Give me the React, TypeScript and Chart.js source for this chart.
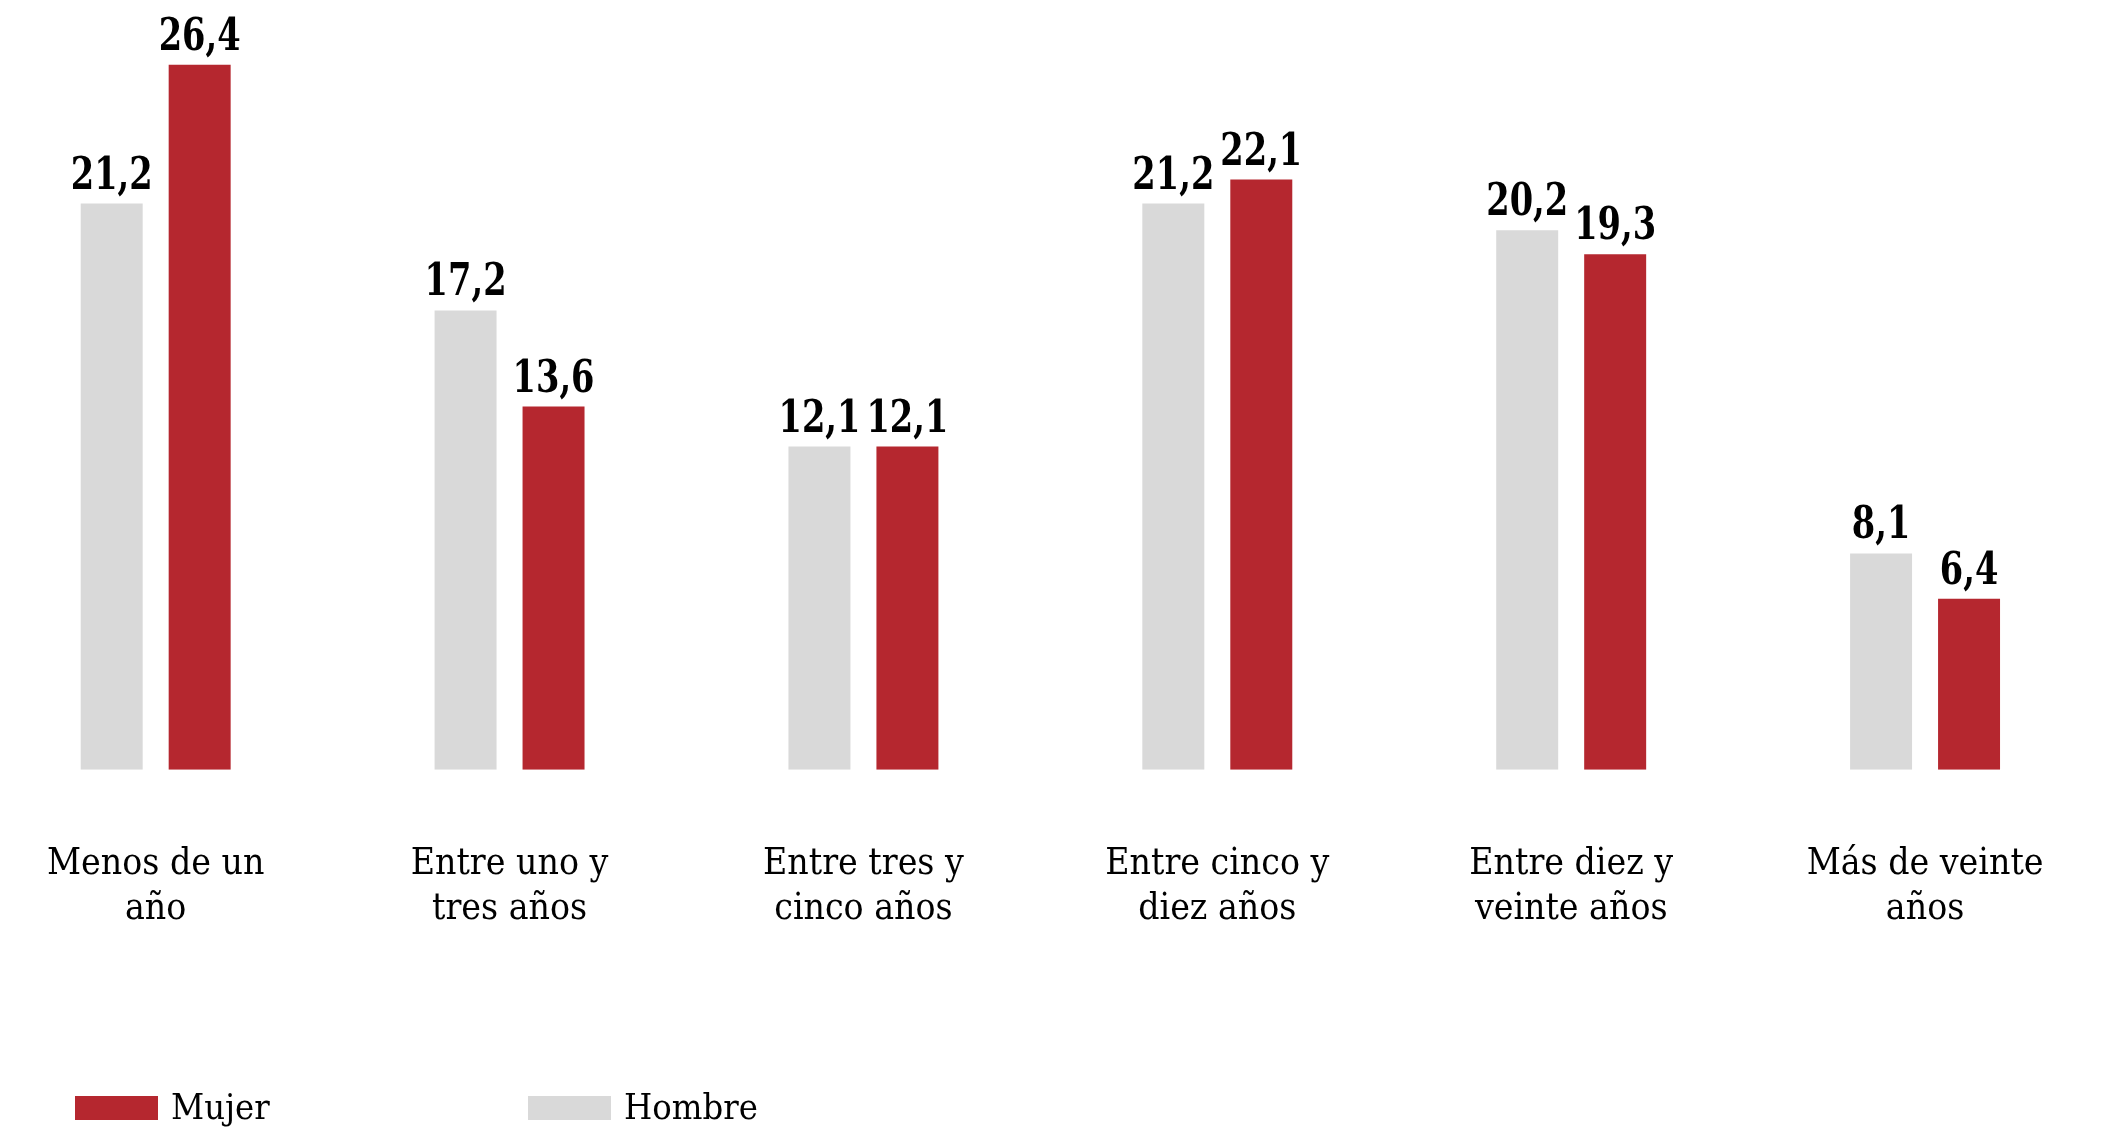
import React, { useEffect, useRef } from "react";
import { Chart, registerables } from "chart.js";

Chart.register(...registerables);

// ---- data ----
const categories: string[][] = [
  ["Menos de un", "año"],
  ["Entre uno y", "tres años"],
  ["Entre tres y", "cinco años"],
  ["Entre cinco y", "diez años"],
  ["Entre diez y", "veinte años"],
  ["Más de veinte", "años"],
];
const hombreValues = [21.2, 17.2, 12.1, 21.2, 20.2, 8.1];
const mujerValues = [26.4, 13.6, 12.1, 22.1, 19.3, 6.4];
const seriesNames = ["Hombre", "Mujer"];
const seriesColors = ["#D9D9D9", "#B5272F"];
const legendOrder = [1, 0];
const yMax = 28;

const FONT = '"DejaVu Serif Condensed", "DejaVu Serif", serif';

const valueLabels = {
  id: "valueLabels",
  afterDatasetsDraw(chart: any) {
    const ctx = chart.ctx;
    chart.data.datasets.forEach((ds: any, i: number) => {
      const meta = chart.getDatasetMeta(i);
      meta.data.forEach((bar: any, j: number) => {
        const v = ds.data[j] as number;
        ctx.save();
        ctx.font = `bold 44px ${FONT}`;
        ctx.fillStyle = "#000";
        ctx.textAlign = "center";
        ctx.textBaseline = "alphabetic";
        ctx.translate(bar.x, bar.y - 15);
        ctx.scale(0.85, 1);
        ctx.fillText(v.toFixed(1).replace(".", ","), 0, 0);
        ctx.restore();
      });
    });
  },
};

const customLegend = {
  id: "customLegend",
  afterDraw(chart: any) {
    const ctx = chart.ctx;
    ctx.save();
    const xs = [100, 553];
    const boxY = 1096;
    const boxW = 83;
    const boxH = 24;
    ctx.font = `36px ${FONT}`;
    ctx.textAlign = "left";
    ctx.textBaseline = "alphabetic";
    legendOrder.forEach((di, k) => {
      const ds = chart.data.datasets[di];
      ctx.fillStyle = ds.backgroundColor;
      ctx.fillRect(xs[k], boxY, boxW, boxH);
      ctx.fillStyle = "#000";
      ctx.fillText(ds.label, xs[k] + boxW + 13, 1119);
    });
    ctx.restore();
  },
};

export default function App() {
  const ref = useRef<HTMLCanvasElement>(null);
  useEffect(() => {
    if (!ref.current) return;
    const chart = new Chart(ref.current, {
      type: "bar",
      data: {
        labels: categories,
        datasets: [
          { label: seriesNames[0], data: hombreValues, backgroundColor: seriesColors[0] },
          { label: seriesNames[1], data: mujerValues, backgroundColor: seriesColors[1] },
        ],
      },
      options: {
        animation: false,
        responsive: true,
        maintainAspectRatio: false,
        events: [],
        categoryPercentage: 0.4972,
        barPercentage: 0.7045,
        layout: { padding: { left: 0, right: 26, top: 22, bottom: 123 } },
        plugins: { legend: { display: false }, tooltip: { enabled: false } },
        scales: {
          x: {
            offset: true,
            grid: { display: false, drawTicks: false },
            border: { display: false },
            ticks: {
              padding: 72,
              color: "#000",
              maxRotation: 0,
              autoSkip: false,
              font: { family: FONT, size: 37, lineHeight: 1.22 },
            },
          },
          y: {
            display: false,
            min: 0,
            max: yMax,
          },
        },
      } as any,
      plugins: [valueLabels, customLegend],
    });
    return () => chart.destroy();
  }, []);
  return (
    <div style={{ position: "fixed", left: 0, top: 0, width: "2111px", height: "1127px", overflow: "hidden", background: "#fff" }}>
      <div style={{ position: "absolute", left: "-25px", top: 0, width: "2153px", height: "1127px" }}>
        <canvas ref={ref} />
      </div>
    </div>
  );
}
